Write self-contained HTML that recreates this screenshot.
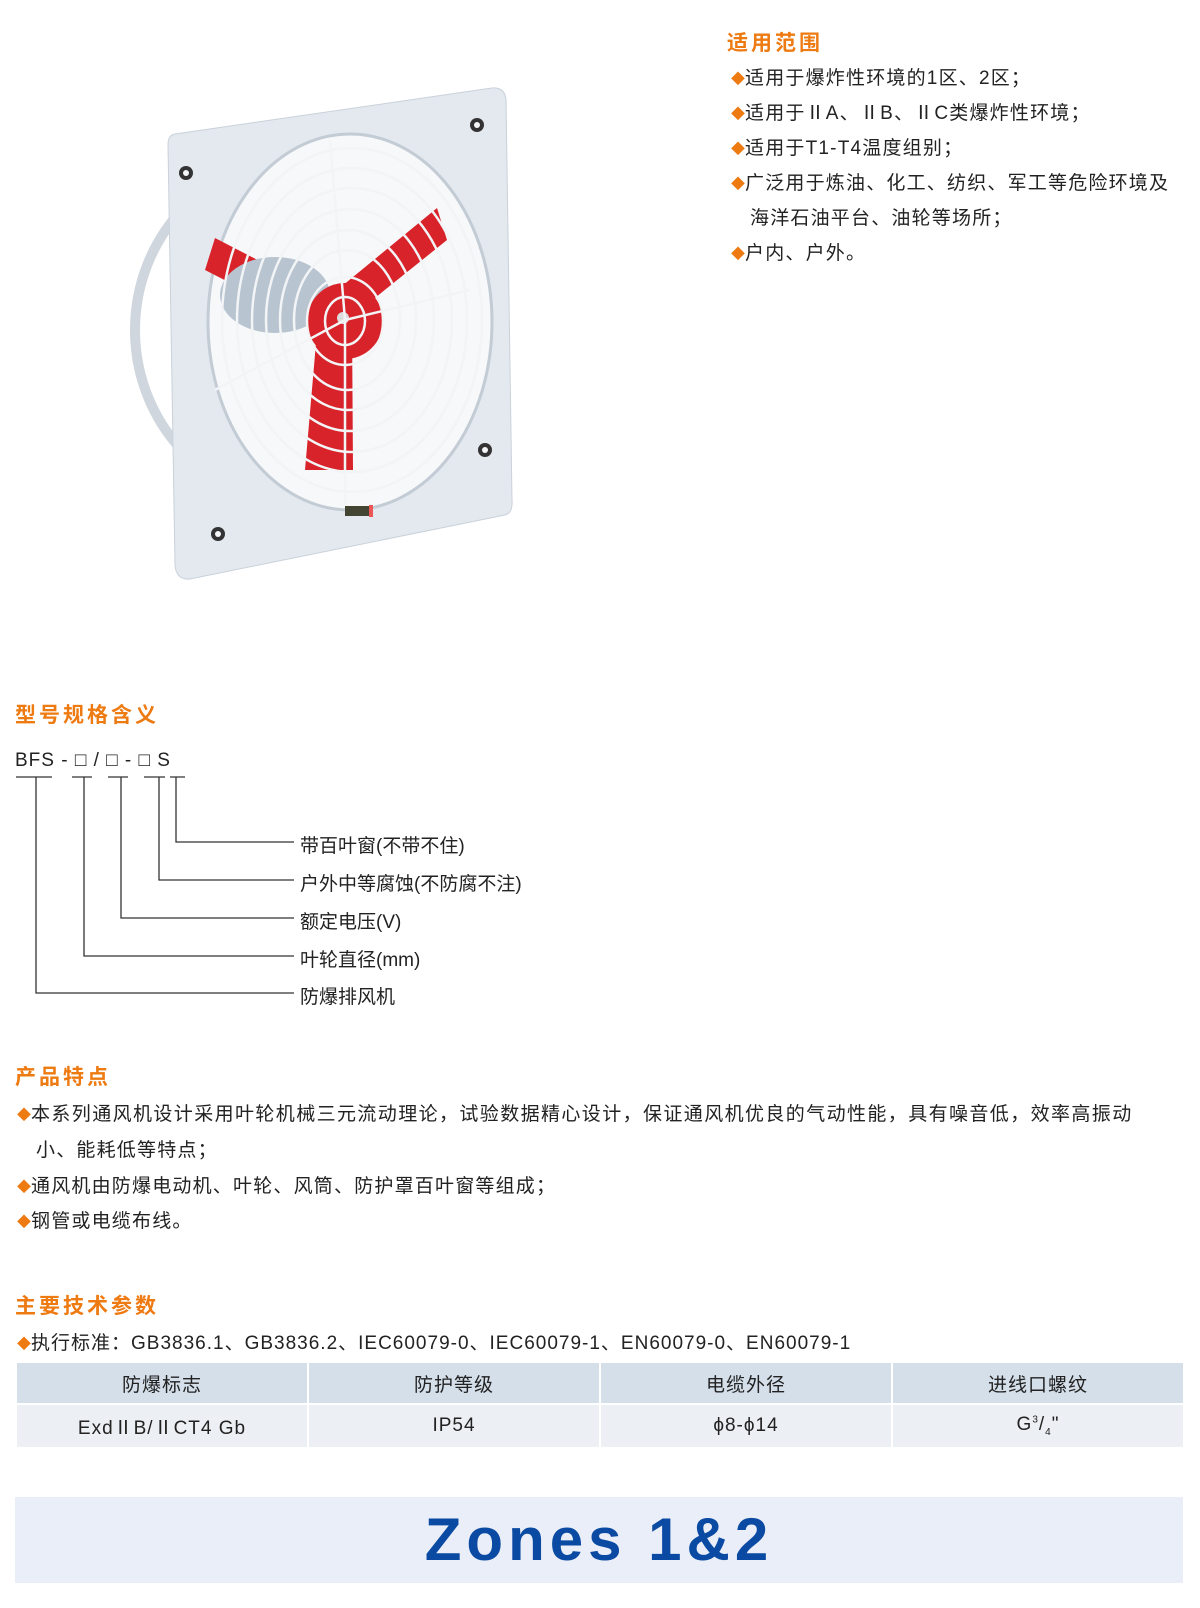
<!DOCTYPE html>
<html><head><meta charset="utf-8"><style>
body{margin:0;width:1200px;height:1608px;background:#fff;position:relative;overflow:hidden;font-family:"Liberation Sans","Noto Sans CJK SC",sans-serif;color:#222}
.a{position:absolute;white-space:nowrap}
.h{color:#ee7a12;font-weight:bold;font-size:21px;letter-spacing:3px}
.t{font-size:19px;line-height:20px;letter-spacing:1.2px}
.d{color:#ee7a12;font-size:14px;letter-spacing:0}
.l{font-size:19px}
table{position:absolute;left:15px;top:1363px;width:1168px;border-collapse:collapse;font-size:19px;table-layout:fixed}
td{text-align:center;border-left:2px solid #fff;border-right:2px solid #fff;letter-spacing:1px}
tr.hd td{background:#d5dfea;height:38px;border-bottom:2px solid #fff}
tr.bd td{background:#eceff3;height:40px}
</style></head><body>
<svg class="a" style="left:0;top:0" width="560" height="620">
<ellipse cx="300" cy="330" rx="165" ry="172" fill="none" stroke="#cfd6de" stroke-width="10"/>
<path d="M175 134 Q168 135 168 145 L175 565 Q176 580 190 579 L505 515 Q513 513 512 500 L506 100 Q505 87 492 88 Z" fill="#e4e9ef" stroke="#c9d1da"/>
<ellipse cx="350" cy="322" rx="142" ry="188" fill="#f7f8fa" stroke="#c3cbd4" stroke-width="3"/>
<g fill="none" stroke="#bcc4cd" stroke-width="2">
<ellipse cx="352" cy="320" rx="130" ry="172"/><ellipse cx="352" cy="320" rx="115" ry="152"/><ellipse cx="352" cy="320" rx="100" ry="132"/><ellipse cx="350" cy="320" rx="84" ry="111"/><ellipse cx="348" cy="320" rx="68" ry="90"/><ellipse cx="347" cy="320" rx="53" ry="70"/>
</g>
<path d="M205 270 L215 238 L335 300 L322 330 Z" fill="#d8232a"/>
<path d="M325 300 L437 208 L447 240 L345 322 Z" fill="#d8232a"/>
<path d="M318 320 L352 320 L353 470 L305 470 Z" fill="#d8232a"/>
<ellipse cx="275" cy="295" rx="55" ry="38" fill="#b8c4d0"/>
<circle cx="345" cy="321" r="38" fill="#d8232a"/>
<circle cx="343" cy="318" r="6" fill="#ddd"/>
<g fill="none" stroke="#f2f4f6" stroke-width="2.5">
<ellipse cx="352" cy="320" rx="130" ry="172"/><ellipse cx="352" cy="320" rx="115" ry="152"/><ellipse cx="352" cy="320" rx="100" ry="132"/><ellipse cx="350" cy="320" rx="84" ry="111"/><ellipse cx="348" cy="320" rx="68" ry="90"/><ellipse cx="347" cy="320" rx="53" ry="70"/><ellipse cx="345" cy="321" rx="38" ry="44"/><ellipse cx="345" cy="321" rx="20" ry="24"/>
<path d="M345 320 L345 505 M345 320 L215 390 M345 320 L470 290 M345 320 L330 140"/>
</g>
<g fill="#333"><circle cx="186" cy="173" r="7"/><circle cx="477" cy="125" r="7"/><circle cx="485" cy="450" r="7"/><circle cx="218" cy="534" r="7"/></g>
<g fill="#f4f6f8"><circle cx="186" cy="173" r="3"/><circle cx="477" cy="125" r="3"/><circle cx="485" cy="450" r="3"/><circle cx="218" cy="534" r="3"/></g>
<rect x="345" y="506" width="24" height="10" fill="#443"/><rect x="369" y="505" width="4" height="12" fill="#e55"/>
</svg>

<div class="a h" style="left:727px;top:27px">适用范围</div>
<div class="a t" style="left:731px;top:69px"><span class="d">◆</span>适用于爆炸性环境的1区、2区；</div>
<div class="a t" style="left:731px;top:104px"><span class="d">◆</span>适用于ⅡA、ⅡB、ⅡC类爆炸性环境；</div>
<div class="a t" style="left:731px;top:139px"><span class="d">◆</span>适用于T1-T4温度组别；</div>
<div class="a t" style="left:731px;top:174px"><span class="d">◆</span>广泛用于炼油、化工、纺织、军工等危险环境及</div>
<div class="a t" style="left:750px;top:209px">海洋石油平台、油轮等场所；</div>
<div class="a t" style="left:731px;top:244px"><span class="d">◆</span>户内、户外。</div>

<div class="a h" style="left:15px;top:699px">型号规格含义</div>
<div class="a" style="left:15px;top:750px;font-size:19px;letter-spacing:1px">BFS - □ / □ - □ S</div>
<svg class="a" style="left:0;top:770px" width="320" height="240" fill="none" stroke="#333" stroke-width="1.3">
<path d="M16 7H52M72 7H92M108 7H128M144 7H165M170 7H185"/>
<path d="M176 7V72H294M159 7V110H294M121 7V148H294M84 7V186H294M36 7V223H294"/>
</svg>
<div class="a l" style="left:300px;top:831px">带百叶窗(不带不住)</div>
<div class="a l" style="left:300px;top:869px">户外中等腐蚀(不防腐不注)</div>
<div class="a l" style="left:300px;top:907px">额定电压(V)</div>
<div class="a l" style="left:300px;top:945px">叶轮直径(mm)</div>
<div class="a l" style="left:300px;top:982px">防爆排风机</div>

<div class="a h" style="left:15px;top:1061px">产品特点</div>
<div class="a t" style="left:17px;top:1105px;letter-spacing:1.4px"><span class="d">◆</span>本系列通风机设计采用叶轮机械三元流动理论，试验数据精心设计，保证通风机优良的气动性能，具有噪音低，效率高振动</div>
<div class="a t" style="left:36px;top:1141px">小、能耗低等特点；</div>
<div class="a t" style="left:17px;top:1177px"><span class="d">◆</span>通风机由防爆电动机、叶轮、风筒、防护罩百叶窗等组成；</div>
<div class="a t" style="left:17px;top:1212px"><span class="d">◆</span>钢管或电缆布线。</div>

<div class="a h" style="left:15px;top:1290px">主要技术参数</div>
<div class="a t" style="left:17px;top:1334px;letter-spacing:1px"><span class="d">◆</span>执行标准：GB3836.1、GB3836.2、IEC60079-0、IEC60079-1、EN60079-0、EN60079-1</div>
<table>
<colgroup><col style="width:292px"><col style="width:292px"><col style="width:292px"><col style="width:292px"></colgroup>
<tr class="hd"><td>防爆标志</td><td>防护等级</td><td>电缆外径</td><td>进线口螺纹</td></tr>
<tr class="bd"><td>ExdⅡB/ⅡCT4 Gb</td><td>IP54</td><td>ϕ8-ϕ14</td><td>G<sup style="font-size:10px">3</sup>/<sub style="font-size:10px">4</sub>"</td></tr>
</table>
<div class="a" style="left:15px;top:1497px;width:1168px;height:86px;background:#e9eef8;text-align:center;line-height:86px;font-size:60px;font-weight:bold;color:#0b4aa2;letter-spacing:5px">Zones 1&amp;2</div>
</body></html>
